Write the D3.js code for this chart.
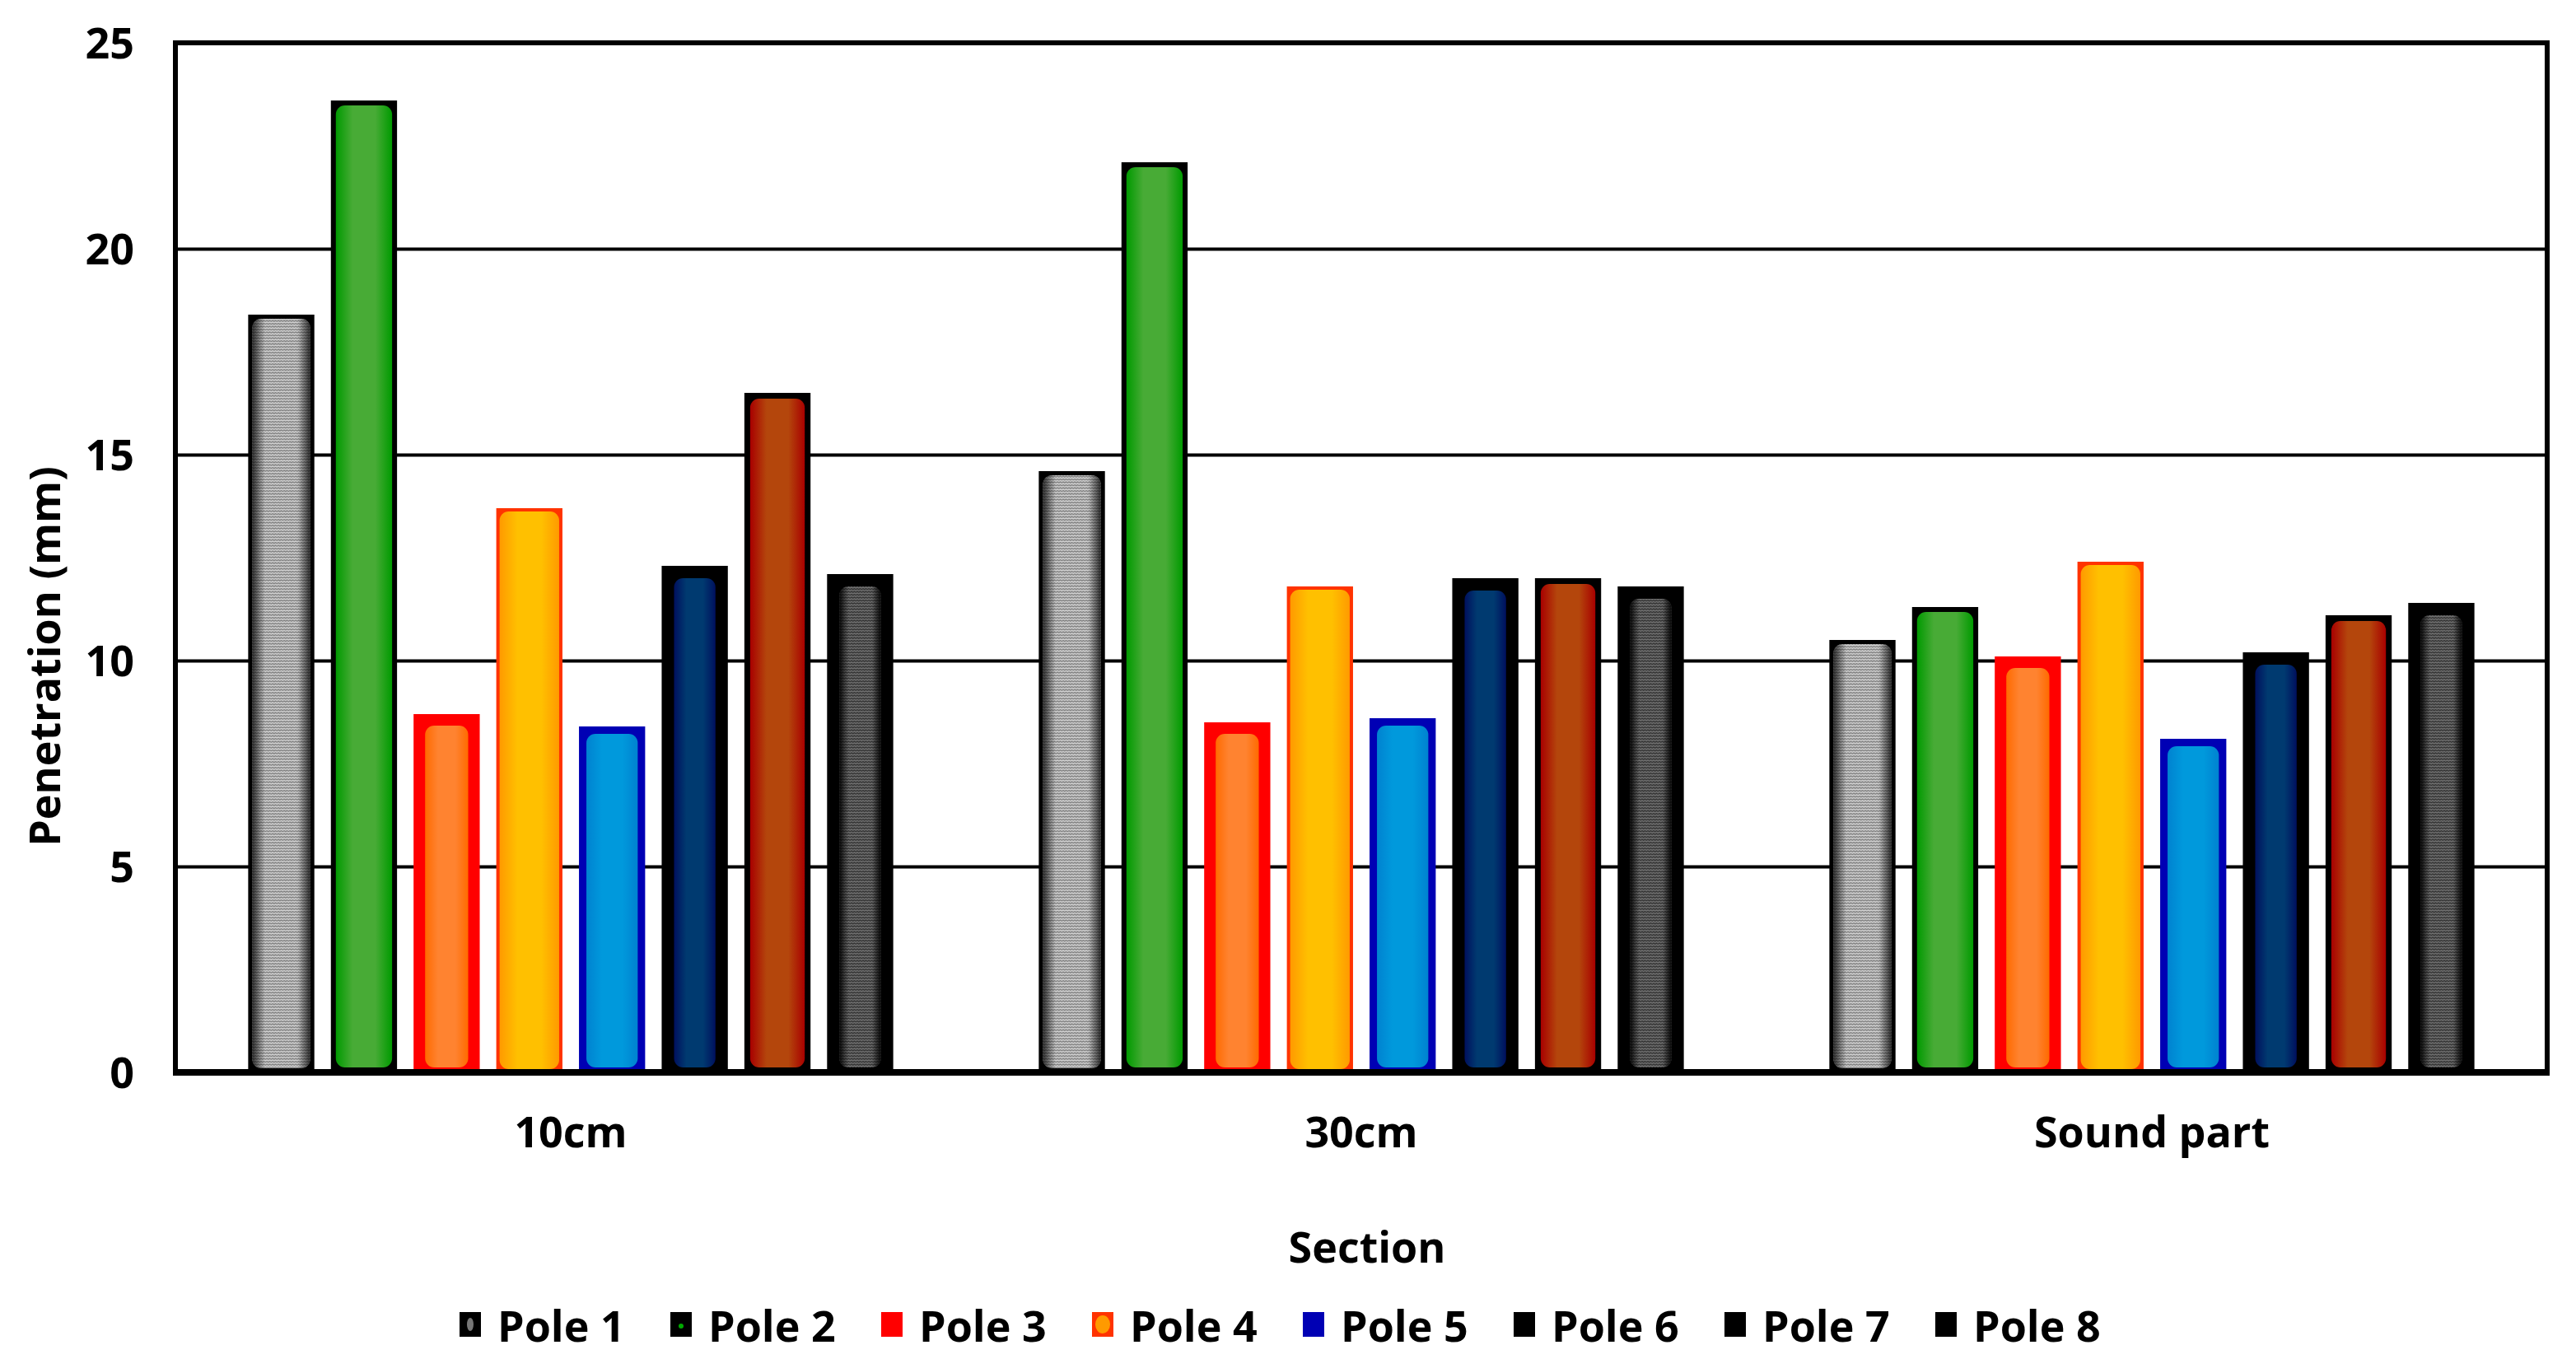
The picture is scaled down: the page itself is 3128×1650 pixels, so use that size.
<!DOCTYPE html>
<html><head><meta charset="utf-8">
<script src="https://cdn.jsdelivr.net/npm/d3@7"></script>
<style>
html,body{margin:0;padding:0;background:#fff;}
text{font-family:"Open Sans",sans-serif;font-weight:700;fill:#000;}
</style></head><body>
<svg id="chart" width="3128" height="1650"></svg>
<script>
// ---- data ----
const categories = ["10cm", "30cm", "Sound part"];
const series = ["Pole 1", "Pole 2", "Pole 3", "Pole 4", "Pole 5", "Pole 6", "Pole 7", "Pole 8"];
const pole1 = [18.4, 14.6, 10.5];
const pole2 = [23.6, 22.1, 11.3];
const pole3 = [8.7, 8.5, 10.1];
const pole4 = [13.7, 11.8, 12.4];
const pole5 = [8.4, 8.6, 8.1];
const pole6 = [12.3, 12.0, 10.2];
const pole7 = [16.5, 12.0, 11.1];
const pole8 = [12.1, 11.8, 11.4];
const seriesValues = [pole1, pole2, pole3, pole4, pole5, pole6, pole7, pole8];
const yTicks = [0, 5, 10, 15, 20, 25];
const xTitle = "Section";
const yTitle = "Penetration (mm)";

// ---- styles ----
const styles = [
  {border: "#000000", bw: 5,  kind: "pattern", base: "#cfcfcf", line: "#7a7a7a", edge: 0.75},
  {border: "#000000", bw: 6,  kind: "grad", edge: "#009a00", mid: "#48ab36"},
  {border: "#ff0000", bw: 14, kind: "grad", edge: "#ff6a00", mid: "#ff8330"},
  {border: "#ff3300", bw: 4,  kind: "grad", edge: "#ff9a00", mid: "#ffc000"},
  {border: "#0000b4", bw: 9,  kind: "grad", edge: "#0082d0", mid: "#0099dc"},
  {border: "#000000", bw: 15, kind: "grad", edge: "#00105e", mid: "#003a70"},
  {border: "#000000", bw: 7,  kind: "grad", edge: "#a80000", mid: "#b4460c"},
  {border: "#000000", bw: 15, kind: "pattern", base: "#6e6e6e", line: "#2e2e2e", edge: 0.9}
];

const svg = d3.select("#chart");
const W = 3128, H = 1650;
const margin = {left: 213, right: 35, top: 52, bottom: 348};
const x0 = d3.scaleBand().domain(categories).range([margin.left, W - margin.right]).padding(0);
const x1 = d3.scaleBand().domain(series).range([0, x0.bandwidth()]).paddingInner(0.2).paddingOuter(0.88);
const y = d3.scaleLinear().domain([0, 25]).range([H - margin.bottom, margin.top]);

const defs = svg.append("defs");
styles.forEach((s, i) => {
  if (s.kind === "grad") {
    const g = defs.append("linearGradient").attr("id", "g" + i).attr("x1", 0).attr("x2", 1).attr("y1", 0).attr("y2", 0);
    g.append("stop").attr("offset", 0).attr("stop-color", s.edge);
    g.append("stop").attr("offset", 0.3).attr("stop-color", s.mid);
    g.append("stop").attr("offset", 0.7).attr("stop-color", s.mid);
    g.append("stop").attr("offset", 1).attr("stop-color", s.edge);
  } else {
    const p = defs.append("pattern").attr("id", "p" + i).attr("patternUnits", "userSpaceOnUse")
      .attr("width", 7).attr("height", 7);
    p.append("rect").attr("width", 7).attr("height", 7).attr("fill", s.base);
    p.append("path").attr("d", "M0 2 L1.75 0.4 L3.5 2 L5.25 0.4 L7 2 M0 5.5 L1.75 3.9 L3.5 5.5 L5.25 3.9 L7 5.5")
      .attr("fill", "none").attr("stroke", s.line).attr("stroke-width", 1.2);
    const g = defs.append("linearGradient").attr("id", "e" + i).attr("x1", 0).attr("x2", 1).attr("y1", 0).attr("y2", 0);
    g.append("stop").attr("offset", 0).attr("stop-color", "#000").attr("stop-opacity", s.edge);
    g.append("stop").attr("offset", 0.22).attr("stop-color", "#000").attr("stop-opacity", 0);
    g.append("stop").attr("offset", 0.78).attr("stop-color", "#000").attr("stop-opacity", 0);
    g.append("stop").attr("offset", 1).attr("stop-color", "#000").attr("stop-opacity", s.edge);
  }
});

// gridlines
const plotW = W - margin.left - margin.right;
svg.append("g").attr("class", "grid")
  .attr("transform", `translate(${margin.left},0)`)
  .call(d3.axisLeft(y).tickValues([5, 10, 15, 20]).tickSize(-plotW).tickFormat(""))
  .call(g => g.select(".domain").remove())
  .call(g => g.selectAll("line").attr("stroke", "#000").attr("stroke-width", 4));

// bars
const barData = [];
categories.forEach((c, ci) => {
  series.forEach((s, si) => barData.push({c, s, si, v: seriesValues[si][ci]}));
});
const innerH = d => Math.max(0, y(0) - y(d.v) - styles[d.si].bw - Math.min(styles[d.si].bw, 6));
const bars = svg.append("g").selectAll("g").data(barData).join("g")
  .attr("transform", d => `translate(${x0(d.c) + x1(d.s)},0)`);
bars.append("rect")
  .attr("x", 0).attr("y", d => y(d.v)).attr("width", x1.bandwidth())
  .attr("height", d => y(0) - y(d.v))
  .attr("fill", d => styles[d.si].border);
bars.append("rect")
  .attr("x", d => styles[d.si].bw).attr("y", d => y(d.v) + styles[d.si].bw)
  .attr("width", d => x1.bandwidth() - 2 * styles[d.si].bw)
  .attr("height", innerH)
  .attr("rx", 11).attr("ry", 11)
  .attr("fill", d => styles[d.si].kind === "grad" ? `url(#g${d.si})` : `url(#p${d.si})`);
bars.filter(d => styles[d.si].kind === "pattern").append("rect")
  .attr("x", d => styles[d.si].bw).attr("y", d => y(d.v) + styles[d.si].bw)
  .attr("width", d => x1.bandwidth() - 2 * styles[d.si].bw)
  .attr("height", innerH)
  .attr("rx", 11).attr("ry", 11)
  .attr("fill", d => `url(#e${d.si})`);

// frame
svg.append("rect").attr("x", margin.left).attr("y", margin.top)
  .attr("width", plotW).attr("height", y(0) - margin.top)
  .attr("fill", "none").attr("stroke", "#000").attr("stroke-width", 6);
svg.append("line").attr("x1", margin.left - 3).attr("x2", W - margin.right + 3)
  .attr("y1", y(0)).attr("y2", y(0)).attr("stroke", "#000").attr("stroke-width", 8);

// y axis labels
svg.append("g").attr("transform", `translate(${margin.left},0)`)
  .call(d3.axisLeft(y).tickValues(yTicks).tickSize(0).tickPadding(50))
  .call(g => g.select(".domain").remove())
  .call(g => g.selectAll("text").attr("font-size", 52).attr("dy", "0.36em")
    .style("font-family", '"Open Sans",sans-serif').style("font-weight", 700));

// x axis labels
svg.append("g").attr("transform", `translate(0,${y(0)})`)
  .call(d3.axisBottom(x0).tickSize(0).tickPadding(54))
  .call(g => g.select(".domain").remove())
  .call(g => g.selectAll("text").attr("font-size", 52).attr("dy", "0.71em")
    .style("font-family", '"Open Sans",sans-serif').style("font-weight", 700));

// titles
svg.append("text").attr("x", 1660).attr("y", 1512).attr("text-anchor", "middle")
  .attr("dominant-baseline", "central").attr("font-size", 52).text(xTitle);
svg.append("text").attr("transform", "translate(52,797) rotate(-90)").attr("text-anchor", "middle")
  .attr("dominant-baseline", "central").attr("font-size", 52).text(yTitle);

// legend
const leg = svg.append("g").selectAll("g").data(series).join("g")
  .attr("transform", (d, i) => `translate(${558 + i * 256},1608)`);
leg.append("rect").attr("x", 0).attr("y", -15).attr("width", 26).attr("height", 30)
  .attr("fill", (d, i) => styles[i].border);
leg.filter((d, i) => i === 0).append("ellipse").attr("cx", 13).attr("cy", 0).attr("rx", 4).attr("ry", 8).attr("fill", "#777");
leg.filter((d, i) => i === 1).append("circle").attr("cx", 13).attr("cy", 2).attr("r", 3).attr("fill", "#0a0");
leg.filter((d, i) => i === 3).append("ellipse").attr("cx", 13).attr("cy", 0).attr("rx", 9).attr("ry", 11).attr("fill", "#ff9a00");
leg.append("text").attr("x", 46).attr("y", 0).attr("dominant-baseline", "central")
  .attr("font-size", 52).text(d => d);
</script>
</body></html>
